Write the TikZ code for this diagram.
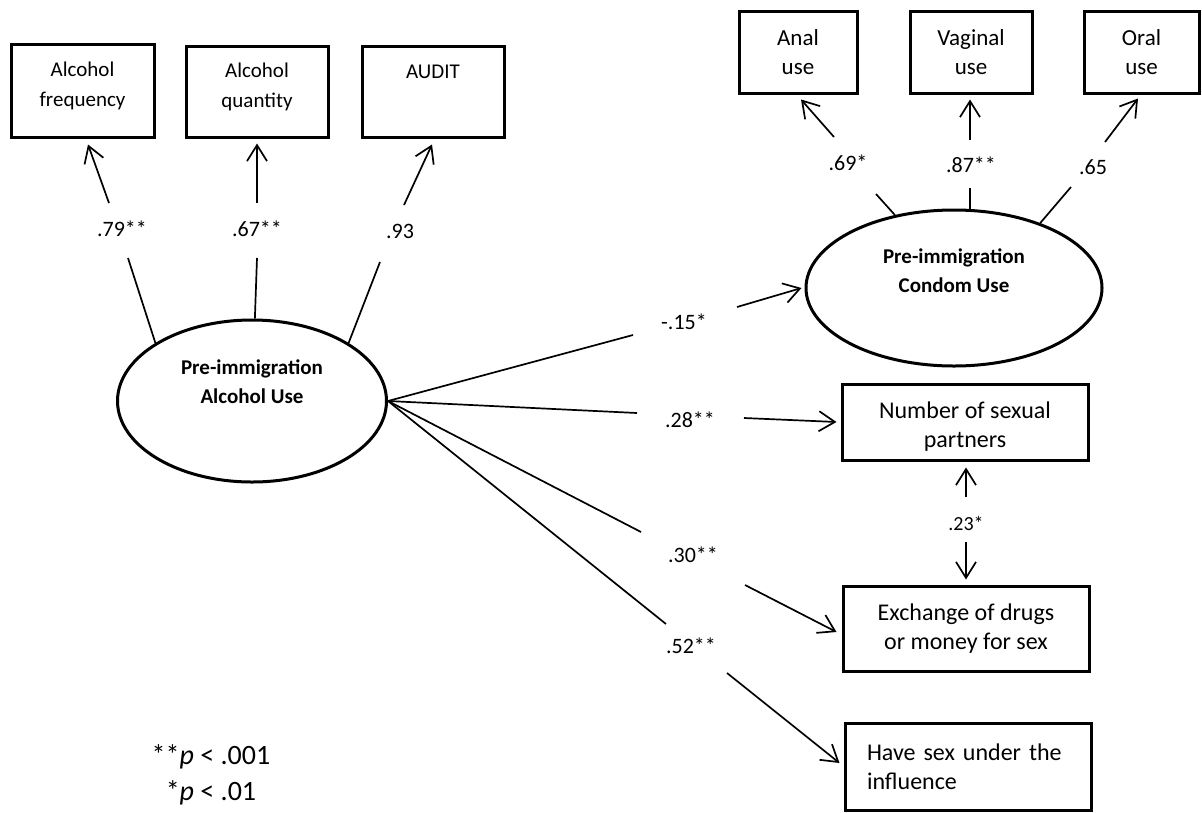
\documentclass[tikz,border=0pt]{standalone}
\usepackage{fontspec}
\setmainfont{Carlito}
\usetikzlibrary{arrows.meta,shapes.geometric}
\tikzset{
  box/.style={draw, line width=3pt, rectangle, inner sep=0pt, align=center},
  latent/.style={draw, line width=3pt, ellipse, inner sep=0pt},
  conn/.style={line width=1.7pt},
  arr/.style={conn, -{Straight Barb[length=16pt,width=20pt]}},
  lbl/.style={font=\fontsize{22}{26}\selectfont, inner sep=0pt},
  ltxt/.style={font=\fontsize{21}{30}\selectfont, align=center},
}
\begin{document}
\begin{tikzpicture}[x=1pt,y=-1pt]
\useasboundingbox (0,0) rectangle (1202,812);

% indicator boxes (left)
\node[box, minimum width=143pt, minimum height=93pt,
  label={[ltxt, yshift=4.5pt]center:Alcohol\\frequency}] (freq) at (82.5,90.5) {};
\node[box, minimum width=142pt, minimum height=91pt,
  label={[ltxt, yshift=4.5pt]center:Alcohol\\quantity}] (quant) at (257,91.5) {};
\node[box, minimum width=142pt, minimum height=91pt,
  label={[ltxt, yshift=19.5pt]center:AUDIT}] (audit) at (433,91.5) {};

% indicator boxes (top right)
\node[box, minimum width=118pt, minimum height=82pt, font=\fontsize{23}{29}\selectfont] (anal) at (798,52) {Anal\\use};
\node[box, minimum width=122pt, minimum height=82pt, font=\fontsize{23}{29}\selectfont] (vag) at (971,52) {Vaginal\\use};
\node[box, minimum width=115pt, minimum height=82pt, font=\fontsize{23}{29}\selectfont] (oral) at (1141.5,52) {Oral\\use};

% outcome boxes
\node[box, minimum width=246pt, minimum height=76pt,
  label={[font=\fontsize{24}{29}\selectfont, align=center, yshift=-5pt]center:Number of sexual\\partners}] (npart) at (965,422) {};
\node[box, minimum width=246pt, minimum height=85pt, font=\fontsize{24}{29}\selectfont] (exch) at (966,628.5) {Exchange of drugs\\or money for sex};
\node[box, minimum width=246pt, minimum height=87pt, font=\fontsize{24}{29}\selectfont, align=left, text width=202pt] (infl) at (968,766.5) {Have sex under the\\influence};

% latent variables
\node[latent, minimum width=269pt, minimum height=162pt,
  label={[font=\bfseries\fontsize{21}{29}\selectfont, align=center, yshift=19pt]center:Pre-immigration\\Alcohol Use}] (alc) at (252,401) {};
\node[latent, minimum width=296pt, minimum height=156pt,
  label={[font=\bfseries\fontsize{21}{29}\selectfont, align=center, yshift=17pt]center:Pre-immigration\\Condom Use}] (cond) at (954,288) {};

% coefficient labels
\node[lbl] (l79) at (122,229) {.79**};
\node[lbl] (l67) at (257,229) {.67**};
\node[lbl] (l93) at (400,231) {.93};
\node[lbl] (l69) at (848,163) {.69*};
\node[lbl] (l87) at (971,165) {.87**};
\node[lbl] (l65) at (1093,167) {.65};
\node[lbl] (l15) at (684,322) {-.15*};
\node[lbl] (l28) at (690,420) {.28**};
\node[lbl] (l30) at (693,555) {.30**};
\node[lbl] (l52) at (691,646) {.52**};
\node[lbl, font=\fontsize{20}{24}\selectfont] (l23) at (966,523) {.23*};

% gap end points
\coordinate (a79) at (128,258);  \coordinate (b79) at (109,203);
\coordinate (a67) at (257,258);  \coordinate (b67) at (257,203);
\coordinate (a93) at (380,262);  \coordinate (b93) at (404,205);
\coordinate (a69) at (876,194);  \coordinate (b69) at (834,137);
\coordinate (a87) at (970,188);  \coordinate (b87) at (970,140);
\coordinate (a65) at (1071,187); \coordinate (b65) at (1105,142);
\coordinate (a15) at (633,335);  \coordinate (b15) at (737,307);
\coordinate (a28) at (637,413);  \coordinate (b28) at (744,418);
\coordinate (a30) at (641,532);  \coordinate (b30) at (745,585);
\coordinate (a52) at (666,624);  \coordinate (b52) at (727,673);
\coordinate (b23u) at (966,497); \coordinate (b23d) at (966,542);

% loadings, alcohol
\draw[conn] (alc.149) -- (a79);
\draw[arr] (b79) -- ([xshift=5.5pt,yshift=-6pt]freq.south);
\draw[conn] (alc.88) -- (a67);
\draw[arr] (b67) -- ([yshift=-5pt]quant.south);
\draw[conn] (alc.31) -- (a93);
\draw[arr] (b93) -- ([xshift=-1pt,yshift=-6pt]audit.south);

% loadings, condom use
\draw[conn] (cond.129) -- (a69);
\draw[arr] (b69) -- ([xshift=3pt,yshift=-5pt]anal.south);
\draw[conn] ([xshift=16pt]cond.north) -- (a87);
\draw[arr] (b87) -- ([xshift=-1pt,yshift=-5pt]vag.south);
\draw[conn] (cond.37) -- (a65);
\draw[arr] (b65) -- ([xshift=-3.5pt,yshift=-4pt]oral.south);

% structural paths
\draw[conn] (alc.east) -- (a15);
\draw[arr] (b15) -- ([xshift=-3pt]cond.west);
\draw[conn] (alc.east) -- (a28);
\draw[arr] (b28) -- ([xshift=-4pt]npart.west);
\draw[conn] (alc.east) -- (a30);
\draw[arr] (b30) -- ([xshift=-5pt,yshift=-3.5pt]exch.west);
\draw[conn] (alc.east) -- (a52);
\draw[arr] (b52) -- ([xshift=-4pt,yshift=3.5pt]infl.west);

% covariance
\draw[arr] (b23u) -- ([xshift=1pt,yshift=-6pt]npart.south);
\draw[arr] (b23d) -- ([yshift=5pt]exch.north);

% legend
\node[font=\fontsize{28}{36}\selectfont, align=center] (legend) at (211,775) {**\textit{p} < .001\\*\textit{p} < .01};
\end{tikzpicture}
\end{document}
